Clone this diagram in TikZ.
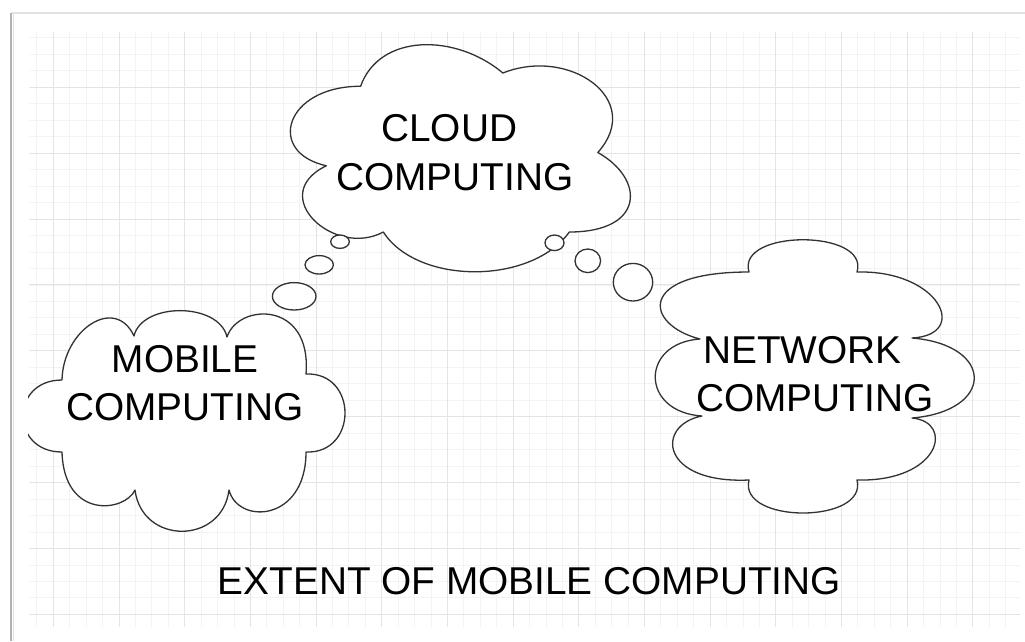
\documentclass[tikz,border=0pt]{standalone}
\usepackage{fontspec}
\setmainfont{Liberation Sans}
\usetikzlibrary{shapes.geometric}
\definecolor{edgec}{RGB}{50,50,50}
\definecolor{gridminor}{RGB}{243,243,243}
\definecolor{gridmajor}{RGB}{228,228,228}
\definecolor{framedark}{RGB}{178,178,178}
\definecolor{framelight}{RGB}{226,226,226}
\begin{document}
\begin{tikzpicture}[x=1pt,y=-1pt,
  cloudshape/.style={draw=edgec, line width=1.3pt, fill=white, line join=round},
  bubble/.style={draw=edgec, line width=1.3pt, fill=white, ellipse, inner sep=0pt},
  label/.style={font=\fontsize{38.8}{48.3}\selectfont, align=center, inner sep=0pt, text=black}]
\useasboundingbox (0,0) rectangle (1025,641);
\fill[white] (0,0) rectangle (1025,641);
% frame
\draw[framelight, line width=1.2pt] (11,13) -- (1025,13);
\draw[framelight, line width=1.5pt] (13.5,13) -- (13.5,641);
\draw[framedark, line width=1.6pt] (11,13) -- (11,641);
% grid
\begin{scope}
\clip (29.3,31.7) rectangle (1020,627);
\foreach \i in {-1,...,58} {
  \draw[gridminor, line width=0.8pt] ({53.3+16.42*\i},31.7) -- ({53.3+16.42*\i},627);
}
\foreach \j in {-3,...,32} {
  \draw[gridminor, line width=0.8pt] (29.3,{87.3+16.47*\j}) -- (1020,{87.3+16.47*\j});
}
\foreach \i in {0,...,14} {
  \draw[gridmajor, line width=0.9pt] ({53.3+65.68*\i},31.7) -- ({53.3+65.68*\i},627);
}
\foreach \j in {-1,...,8} {
  \draw[gridmajor, line width=0.9pt] (29.3,{87.3+65.88*\j}) -- (1020,{87.3+65.88*\j});
}
\end{scope}
% cloud computing (thought cloud)
\draw[cloudshape] (360.6,86.25)
  .. controls (284.7,86.25) and (265.7,152.5) .. (326.4,165.75)
  .. controls (265.7,194.9) and (334.0,258.5) .. (383.3,232)
  .. controls (417.5,285) and (531.35,285) .. (569.3,232)
  .. controls (645.2,232) and (645.2,179) .. (597.8,152.5)
  .. controls (645.2,99.5) and (569.3,46.5) .. (502.9,73)
  .. controls (455.45,33.25) and (379.55,33.25) .. (360.6,86.25) -- cycle;
% mobile computing cloud
\begin{scope}
\clip (28,0) rectangle (1025,641);
\draw[cloudshape] (62,380)
  .. controls (63,330) and (115,295) .. (134,336)
  .. controls (142,302) and (219,302) .. (227,337)
  .. controls (238,303) and (312,300) .. (306,374)
  .. controls (358,372) and (358,454) .. (306,452)
  .. controls (306,522) and (238,525) .. (229,490)
  .. controls (222,545) and (142,545) .. (135,490)
  .. controls (125,512) and (64,520) .. (62,452)
  .. controls (10,452) and (10,380) .. (62,380) -- cycle;
\end{scope}
% network computing cloud
\draw[cloudshape] (749,272)
  .. controls (736,229) and (870,229) .. (857,272)
  .. controls (940,270) and (970,335) .. (912,338)
  .. controls (995,345) and (995,411) .. (912,418)
  .. controls (955,422) and (940,482) .. (857,480)
  .. controls (868,524) and (738,524) .. (749,480)
  .. controls (660,484) and (655,425) .. (702,416)
  .. controls (640,412) and (640,343) .. (700,339)
  .. controls (645,325) and (635,272) .. (749,272) -- cycle;
% thought bubbles
\node[bubble, minimum width=18.6pt, minimum height=13.4pt] (b1) at (340,241.7) {};
\node[bubble, minimum width=28.4pt, minimum height=18.4pt] (b2) at (319.2,264.8) {};
\node[bubble, minimum width=43.6pt, minimum height=27.4pt] (b3) at (294.2,296.3) {};
\node[bubble, minimum width=19pt, minimum height=15.6pt] (r1) at (554.5,242.8) {};
\node[bubble, minimum width=25.6pt, minimum height=23.6pt] (r2) at (587.8,260.8) {};
\node[bubble, minimum width=39.4pt, minimum height=37.6pt] (r3) at (633,282.2) {};
% labels
\node[label] (cloudtxt) at (455,152.5) {CLOUD\hspace*{11.6pt}\\COMPUTING};
\node[label] (mobiletxt) at (185,383.3) {MOBILE\\COMPUTING};
\node[label] (networktxt) at (815,374.2) {NETWORK\hspace*{25pt}\\COMPUTING};
\node[label] (title) at (529.2,580.8) {EXTENT OF MOBILE COMPUTING};
\end{tikzpicture}
\end{document}
